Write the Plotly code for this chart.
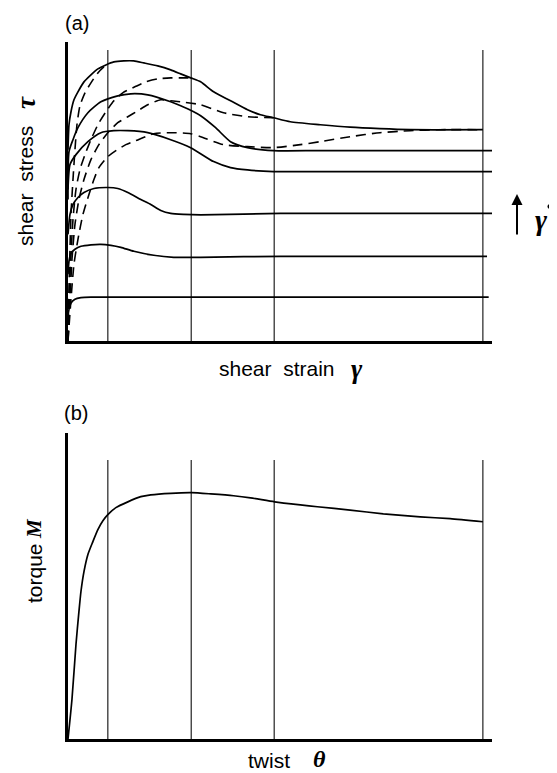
import plotly.graph_objects as go

# ---------------- Panel (a): shear stress vs shear strain ----------------
strain_marks = [0.96, 2.97, 4.97, 10.0]
mark_top_a = 97.3

# solid curves (increasing shear rate from bottom H to top A)
A_x = [0, 0.024, 0.072, 0.144, 0.24, 0.385, 0.553, 0.72, 0.913, 1.106, 1.346, 1.587, 1.827, 2.163, 2.476, 2.716, 2.957, 3.197, 3.51, 3.918, 4.327, 4.639, 4.952, 5.36, 6.08, 6.80, 7.52, 8.245, 10.0]
A_y = [64, 72.33, 76.67, 80.67, 83.33, 86.67, 89, 91, 92.33, 93.33, 93.67, 93.67, 93, 92, 90.67, 89.33, 88, 86.67, 83.33, 80.33, 77.33, 75.67, 74.67, 73.33, 72.33, 71.5, 71, 70.67, 70.67]

C_x = [0, 0.024, 0.12, 0.24, 0.48, 0.793, 1.20, 1.514, 1.923, 2.476, 2.716, 3.029, 3.197, 3.558, 3.918, 4.327, 4.952, 6.08, 10.29]
C_y = [47.33, 63.33, 67.33, 71.33, 76.33, 80, 82, 82.67, 82.33, 80, 78.67, 76.67, 75.33, 71.33, 66.67, 64.67, 63.67, 63.67, 63.67]

E_x = [0, 0.048, 0.192, 0.48, 0.793, 1.106, 1.442, 1.923, 2.476, 2.957, 3.51, 3.918, 4.327, 4.952, 6.08, 10.29]
E_y = [50.67, 59, 62.33, 66.67, 69.67, 70.33, 70.33, 69.67, 67.33, 64.67, 60, 58, 57.2, 56.67, 56.67, 56.67]

F_x = [0, 0.048, 0.12, 0.24, 0.385, 0.625, 0.96, 1.20, 1.442, 1.755, 1.995, 2.236, 2.476, 2.788, 3.197, 5.12, 10.22]
F_y = [35.67, 42.33, 45.67, 48, 49.67, 51, 51.33, 51, 49.67, 47.33, 45.67, 43.67, 42.67, 42.33, 42.17, 42.67, 42.67]

G_x = [0, 0.024, 0.072, 0.168, 0.3125, 0.553, 0.793, 1.034, 1.274, 1.587, 2.067, 2.548, 3.197, 5.12, 10.1]
G_y = [22.33, 26.67, 29.33, 30.67, 31.67, 32.17, 32.33, 32, 31.33, 30, 28.67, 28, 28, 28.33, 28.33]

H_x = [0, 0.012, 0.072, 0.168, 0.3125, 0.553, 10.14]
H_y = [5.67, 9.67, 12.67, 14, 14.5, 14.67, 14.67]

# dashed curves (constant twist)
D1_x = [0, 0.024, 0.048, 0.072, 0.12, 0.168, 0.216, 0.288, 0.409, 0.553, 0.72, 0.865, 0.96]
D1_y = [0, 17.33, 30.67, 42.33, 54, 64, 72.33, 78.67, 83, 86.33, 89.67, 91.67, 92.67]

D2_x = [0, 0.024, 0.072, 0.12, 0.192, 0.288, 0.409, 0.553, 0.72, 0.913, 1.106, 1.32, 1.635, 1.875, 2.163, 2.476, 2.788, 2.957]
D2_y = [0, 14, 29, 40.67, 50.67, 57.33, 62.33, 67.33, 72.33, 76.67, 80.33, 83, 85.17, 86.67, 87.67, 88, 88, 88]

D3_x = [0, 0.048, 0.096, 0.168, 0.264, 0.385, 0.553, 0.745, 0.96, 1.20, 1.442, 1.683, 1.923, 2.236, 2.476, 2.716, 3.197, 3.75, 4.327, 4.952]
D3_y = [0, 14, 27.33, 39, 47.33, 54, 60.67, 65.67, 69.67, 73, 75, 77, 79, 80.67, 80.33, 80, 79, 76.33, 75, 74.67]

D4_x = [0, 0.072, 0.144, 0.24, 0.36, 0.505, 0.625, 0.745, 0.96, 1.154, 1.394, 1.635, 2.067, 2.476, 2.957, 3.197, 3.75, 4.327, 4.952, 5.60, 6.08, 6.80, 7.52, 8.245, 8.966, 10.0]
D4_y = [0, 14, 25.67, 34, 42.33, 49, 54, 58, 61.67, 63.67, 65.67, 67, 69.33, 69.67, 69.33, 68.33, 65.67, 65, 64.67, 65.67, 66.67, 68.33, 69.67, 70.33, 70.67, 70.67]

# ---------------- Panel (b): torque vs twist ----------------
twist_marks = [0.96, 2.97, 4.97, 10.0]
mark_top_b = 91.2
M_x = [0, 0.096, 0.192, 0.264, 0.3125, 0.385, 0.48, 0.60, 0.72, 0.841, 0.96, 1.154, 1.442, 1.755, 1.995, 2.476, 2.98, 3.44, 3.99, 4.40, 4.98, 5.60, 6.01, 6.80, 7.60, 8.49, 9.21, 10.0]
M_y = [0, 13.0, 30.9, 41.7, 48.2, 54.7, 60.3, 64.5, 68.4, 71.3, 73.3, 75.6, 77.5, 79.2, 79.8, 80.3, 80.5, 80.1, 79.5, 78.8, 77.5, 76.5, 75.9, 74.8, 73.6, 72.6, 72.0, 71.0]

# page body has an 8px margin; figure fills the rest of the 557x773 window
OFF = 8
W, H = 557 - OFF, 773 - OFF
fig = go.Figure()

def vlines(marks, top):
    xs, ys = [], []
    for m in marks:
        xs += [m, m, None]
        ys += [0, top, None]
    return xs, ys

vx, vy = vlines(strain_marks, mark_top_a)
fig.add_trace(go.Scatter(x=vx, y=vy, mode="lines", line=dict(color="#222", width=1.2),
                         xaxis="x", yaxis="y", hoverinfo="skip"))
for cx, cy in [(A_x, A_y), (C_x, C_y), (E_x, E_y), (F_x, F_y), (G_x, G_y), (H_x, H_y)]:
    fig.add_trace(go.Scatter(x=cx, y=cy, mode="lines", line=dict(color="black", width=1.7, shape="spline", smoothing=0.6),
                             xaxis="x", yaxis="y"))
for cx, cy in [(D1_x, D1_y), (D2_x, D2_y), (D3_x, D3_y), (D4_x, D4_y)]:
    fig.add_trace(go.Scatter(x=cx, y=cy, mode="lines",
                             line=dict(color="black", width=1.6, dash="10px,6px", shape="spline", smoothing=0.6),
                             xaxis="x", yaxis="y"))

vx2, vy2 = vlines(twist_marks, mark_top_b)
fig.add_trace(go.Scatter(x=vx2, y=vy2, mode="lines", line=dict(color="#222", width=1.2),
                         xaxis="x2", yaxis="y2", hoverinfo="skip"))
fig.add_trace(go.Scatter(x=M_x, y=M_y, mode="lines", line=dict(color="black", width=1.7, shape="spline", smoothing=0.6),
                         xaxis="x2", yaxis="y2"))

def px(x):
    return (x - OFF) / W

def py(y):
    return 1 - (y - OFF) / H

ax_common = dict(showgrid=False, zeroline=False, showticklabels=False, ticks="",
                 showline=True, linecolor="black", linewidth=3)
fig.update_layout(
    width=W, height=H, margin=dict(l=0, r=0, t=0, b=0),
    paper_bgcolor="white", plot_bgcolor="white", showlegend=False,
    xaxis=dict(domain=[px(68), px(492)], range=[0, 10.22], anchor="y", **ax_common),
    yaxis=dict(domain=[py(341), py(42)], range=[0, 100], anchor="x", **ax_common),
    xaxis2=dict(domain=[px(68), px(492)], range=[0, 10.22], anchor="y2", **ax_common),
    yaxis2=dict(domain=[py(739), py(433)], range=[0, 100], anchor="x2", **ax_common),
)

sans = "Liberation Sans, Arial, sans-serif"
serif = "Liberation Serif, Times New Roman, serif"

def label(text, x, y, size=21, family=sans, angle=0, bold_it=False):
    t = f"<b><i>{text}</i></b>" if bold_it else text
    fig.add_annotation(text=t, x=px(x), y=py(y), xref="paper", yref="paper",
                       xanchor="center", yanchor="middle", showarrow=False,
                       textangle=angle, font=dict(family=family, size=size, color="black"))

label("(a)", 77, 23, size=20)
label("shear&nbsp;&nbsp;stress", 25, 186, angle=-90)
label("τ", 26, 103, size=27, family=serif, angle=-90, bold_it=True)
label("shear&nbsp;&nbsp;strain", 277, 368)
label("γ", 357, 369, size=27, family=serif, bold_it=True)
# shear-rate symbol: gamma with a dot, and an upward arrow
label("γ", 541, 220, size=29, family=serif, bold_it=True)
fig.add_shape(type="circle", xref="paper", yref="paper",
              x0=px(547.5), x1=px(552.5), y0=py(209), y1=py(204),
              fillcolor="black", line=dict(width=0))
fig.add_annotation(x=px(517), y=py(194), xref="paper", yref="paper", ax=0, ay=42,
                   axref="pixel", ayref="pixel", text="", showarrow=True,
                   arrowhead=2, arrowsize=1.1, arrowwidth=2, arrowcolor="black")

label("(b)", 76, 413, size=20)
label("torque", 34, 573, angle=-90)
label("M", 34, 529, size=21, family=serif, angle=-90, bold_it=True)
label("twist", 269, 760)
label("θ", 319, 759, size=24, family=serif, bold_it=True)

fig.write_html("out.html")
